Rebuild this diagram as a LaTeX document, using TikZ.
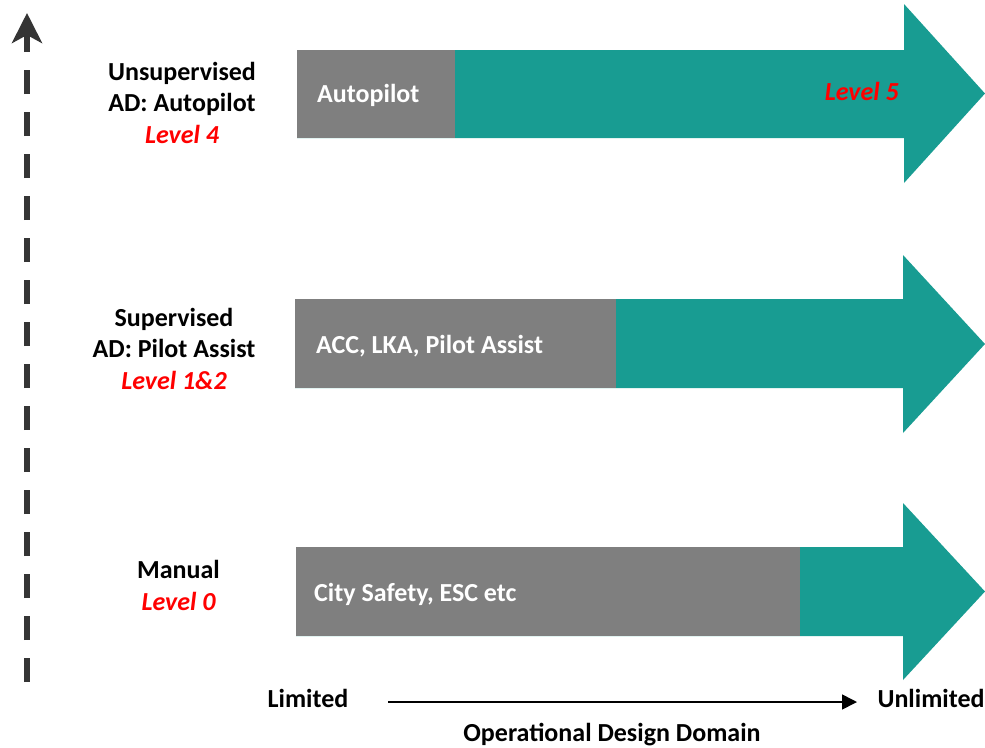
\documentclass[tikz,border=0pt]{standalone}
\usepackage{fontspec}
\setmainfont{Carlito}
\usetikzlibrary{arrows.meta}
\definecolor{odteal}{HTML}{189C92}
\definecolor{odgray}{HTML}{7F7F7F}
\definecolor{odred}{HTML}{FF0000}
\definecolor{axisgray}{HTML}{353535}
\begin{document}
\begin{tikzpicture}[x=1pt,y=-1pt,
  lbl/.style={font=\fontsize{26}{31}\selectfont\bfseries, inner sep=0pt, anchor=base},
  lvl/.style={lbl, text=odred, font=\fontsize{26}{31}\selectfont\bfseries\itshape},
  boxtxt/.style={lbl, text=white, anchor=base west},
  graybox/.style={fill=odgray, inner sep=0pt, anchor=north west},
  bigarrow/.style={fill=odteal},
  yaxis/.style={draw=axisgray, line width=6pt, dash pattern=on 24pt off 18pt,
    -{Stealth[length=30pt,width=30pt,inset=8pt,fill=axisgray]}},
  xaxis/.style={draw=black, line width=1.6pt, -{Triangle[length=15pt,width=15pt]}},
]
\useasboundingbox (0,0) rectangle (985,747);

% big teal arrows
\fill[bigarrow] (297,50) -- (904,50) -- (904,4) -- (985,93.5) -- (904,183) -- (904,138) -- (297,138) -- cycle;
\fill[bigarrow] (295,299) -- (903,299) -- (903,255) -- (985,344) -- (903,433) -- (903,388) -- (295,388) -- cycle;
\fill[bigarrow] (296,547) -- (903,547) -- (903,503) -- (985,591.5) -- (903,680) -- (903,636) -- (296,636) -- cycle;

% gray boxes
\node[graybox, minimum width=158pt, minimum height=88pt] (g1) at (297,50) {};
\node[graybox, minimum width=321pt, minimum height=89pt] (g2) at (295,299) {};
\node[graybox, minimum width=504pt, minimum height=89pt] (g3) at (296,547) {};

\node[boxtxt] (t1) at (317,102) {Autopilot};
\node[boxtxt] (t2) at (316,353) {ACC, LKA, Pilot Assist};
\node[boxtxt] (t3) at (314,601) {City Safety, ESC etc};
\node[lvl, anchor=base east] (l5) at (899,100) {Level 5};

% left labels
\node[lbl] (u1) at (182,80) {Unsupervised};
\node[lbl] (u2) at (182,111) {AD: Autopilot};
\node[lvl] (u3) at (182,143) {Level 4};

\node[lbl] (s1) at (174,326) {Supervised};
\node[lbl] (s2) at (174,357) {AD: Pilot Assist};
\node[lvl] (s3) at (174,389) {Level 1\&2};

\node[lbl] (m1) at (178.5,578) {Manual};
\node[lvl] (m2) at (178.5,610) {Level 0};

% vertical dashed axis
\coordinate (ys) at (27,682);
\coordinate (ye) at (27,13);
\draw[yaxis] (ys) -- (ye);

% horizontal axis
\node[lbl] (lim) at (308,707) {Limited};
\node[lbl] (unlim) at (931,707) {Unlimited};
\node[lbl] (odd) at (612,741) {Operational Design Domain};
\coordinate (xs) at (388,702);
\coordinate (xe) at (857,702);
\draw[xaxis] (xs) -- (xe);
\end{tikzpicture}
\end{document}
